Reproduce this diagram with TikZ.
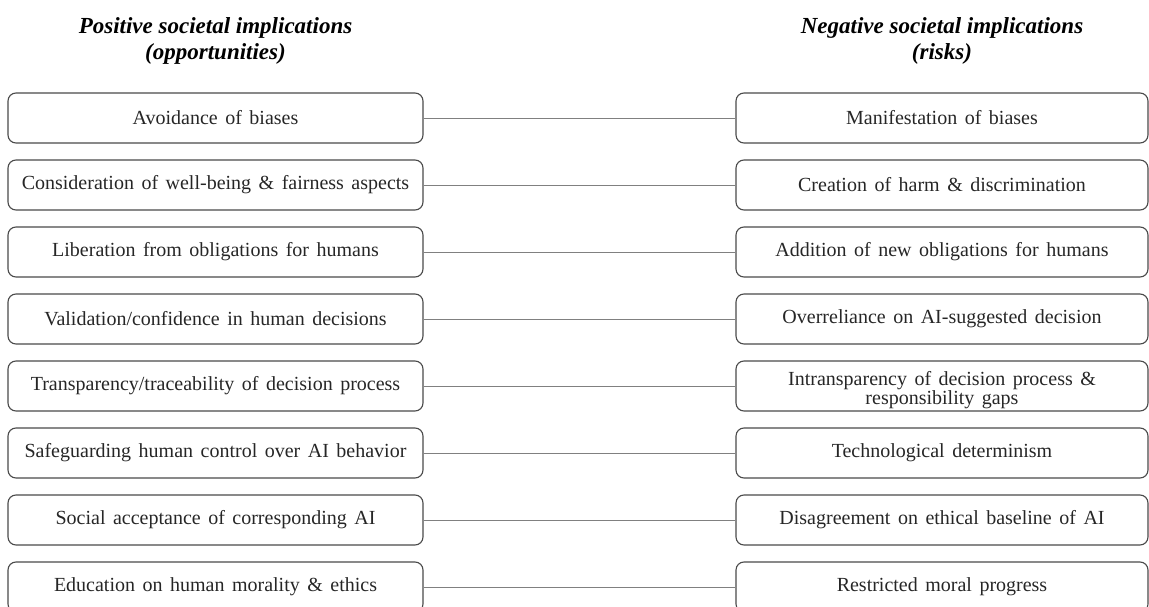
\documentclass[tikz,border=0pt]{standalone}
\usepackage{fontspec}
\setmainfont{Liberation Serif}
\newfontfamily\boxfont[WordSpace=1.5]{Liberation Serif}
\usetikzlibrary{positioning}

\definecolor{boxline}{HTML}{4A4A4A}
\definecolor{linkline}{HTML}{808080}

\tikzset{
  boxtext/.style={align=center, font=\boxfont\fontsize{20}{18.5}\selectfont, text=black!85},
  implbox/.style={draw=boxline, line width=1.1pt, rounded corners=8pt,
    minimum height=50pt, inner sep=0pt, boxtext},
  posbox/.style={implbox, minimum width=415pt},
  negbox/.style={implbox, minimum width=412pt},
  heading/.style={align=center, font=\bfseries\itshape\fontsize{23}{26}\selectfont},
  link/.style={draw=linkline, line width=0.9pt}
}

\begin{document}
\begin{tikzpicture}[x=1pt, y=-1pt]
  \clip (0,0) rectangle (1149,607);

  \node[heading] (hpos) at (215.5,41) {Positive societal implications\\(opportunities)};
  \node[heading] (hneg) at (942,41) {Negative societal implications\\(risks)};

  % left column: opportunities
  \node[posbox] (p1) at (215.5,118) {Avoidance of biases};
  \node[posbox] (p2) at (215.5,185) {Consideration of well-being \& fairness aspects};
  \node[posbox] (p3) at (215.5,252) {Liberation from obligations for humans};
  \node[posbox] (p4) at (215.5,319) {Validation/confidence in human decisions};
  \node[posbox] (p5) at (215.5,386) {Transparency/traceability of decision process};
  \node[posbox] (p6) at (215.5,453) {Safeguarding human control over AI behavior};
  \node[posbox] (p7) at (215.5,520) {Social acceptance of corresponding AI};
  \node[posbox] (p8) at (215.5,587) {Education on human morality \& ethics};

  % right column: risks
  \node[negbox] (n1) at (942,118) {Manifestation of biases};
  \node[negbox] (n2) at (942,185) {Creation of harm \& discrimination};
  \node[negbox] (n3) at (942,252) {Addition of new obligations for humans};
  \node[negbox] (n4) at (942,319) {Overreliance on AI-suggested decision};
  \node[negbox, label={[boxtext, yshift=-4pt]center:{Intransparency of decision process \&\\responsibility gaps}}] (n5) at (942,386) {};
  \node[negbox] (n6) at (942,453) {Technological determinism};
  \node[negbox] (n7) at (942,520) {Disagreement on ethical baseline of AI};
  \node[negbox] (n8) at (942,587) {Restricted moral progress};

  % each opportunity faces its risk
  \foreach \i in {1,...,8}
    \draw[link] (p\i.east) -- (n\i.west);
\end{tikzpicture}
\end{document}
